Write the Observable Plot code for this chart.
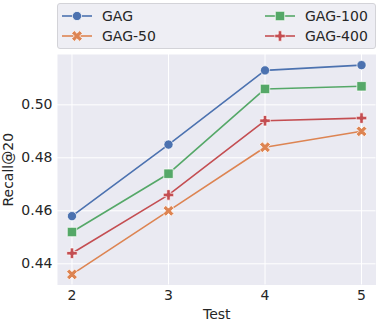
<!DOCTYPE html>
<html>
<head>
<meta charset="utf-8">
<script src="https://cdn.jsdelivr.net/npm/d3@7"></script>
<script src="https://cdn.jsdelivr.net/npm/@observablehq/plot@0.6"></script>
<style>
  body { margin: 0; background: white; font-family: "DejaVu Sans", sans-serif; }
  #wrap { position: relative; width: 382px; height: 325px; }
  #legend { position: absolute; left: 57px; top: 3px; width: 317px; height: 44px;
    background: #EEEEF4; border: 1px solid #D3D3D8; border-radius: 3px; }
  .item { position: absolute; display: flex; align-items: center; font-size: 14px; color: #262626; height: 20px; }
  .item svg { margin-right: 10px; }
  #chart { position: absolute; left: 0; top: 50px; }
</style>
</head>
<body>
<div id="wrap">
  <div id="legend"></div>
  <div id="chart"></div>
</div>
<script>
// Data
const tests = [2, 3, 4, 5];
const yTicks = [0.44, 0.46, 0.48, 0.50];
const seriesNames = ["GAG", "GAG-50", "GAG-100", "GAG-400"];
const gag    = [0.458, 0.485, 0.513, 0.515];
const gag50  = [0.436, 0.460, 0.484, 0.490];
const gag100 = [0.452, 0.474, 0.506, 0.507];
const gag400 = [0.444, 0.466, 0.494, 0.495];

// Styles
const colors = {"GAG": "#4C72B0", "GAG-50": "#DD8452", "GAG-100": "#55A868", "GAG-400": "#C44E52"};
const markers = {
  "GAG":     {symbol: d3.symbolCircle, r: 4.6, rotate: 0},
  "GAG-50":  {symbol: d3.symbolCross,  r: 4.8, rotate: 45},
  "GAG-100": {symbol: d3.symbolSquare, r: 5.3, rotate: 0},
  "GAG-400": {symbol: d3.symbolCross,  r: 4.4, rotate: 0}
};

const valuesBySeries = {"GAG": gag, "GAG-50": gag50, "GAG-100": gag100, "GAG-400": gag400};
const table = seriesNames.flatMap(s => tests.map((t, i) => ({series: s, test: t, value: valuesBySeries[s][i]})));

const marks = [
  Plot.frame({fill: "#EAEAF2", stroke: null}),
  Plot.gridX(tests, {stroke: "white", strokeOpacity: 1, strokeWidth: 1}),
  Plot.gridY(yTicks, {stroke: "white", strokeOpacity: 1, strokeWidth: 1}),
  Plot.axisX(tests, {tickSize: 0, tickPadding: 5, tickFormat: d => String(d), label: "Test",
    labelAnchor: "center", labelArrow: "none", labelOffset: 34}),
  Plot.axisY(yTicks, {tickSize: 0, tickPadding: 5, tickFormat: d3.format(".2f"), label: "Recall@20",
    labelAnchor: "center", labelArrow: "none", labelOffset: 54})
];
for (const s of seriesNames) {
  const data = table.filter(d => d.series === s);
  marks.push(Plot.line(data, {x: "test", y: "value", stroke: colors[s], strokeWidth: 1.6}));
}
for (const s of seriesNames) {
  const data = table.filter(d => d.series === s);
  const m = markers[s];
  marks.push(Plot.dot(data, {x: "test", y: "value", symbol: () => m.symbol, r: m.r, rotate: m.rotate,
    fill: colors[s], stroke: "white", strokeWidth: 0.7}));
}

const chart = Plot.plot({
  width: 382, height: 275,
  marginLeft: 57, marginRight: 6.5, marginTop: 4, marginBottom: 40.5,
  style: {fontFamily: "DejaVu Sans", fontSize: "14px", color: "#262626", background: "transparent", overflow: "visible"},
  x: {domain: [1.85, 5.15]},
  y: {domain: [0.432, 0.519]},
  symbol: {type: "identity"},
  marks
});
document.getElementById("chart").appendChild(chart);

// Legend
const legend = document.getElementById("legend");
const positions = [
  {s: "GAG", left: 4, top: 2}, {s: "GAG-50", left: 4, top: 22},
  {s: "GAG-100", left: 207, top: 2}, {s: "GAG-400", left: 207, top: 22}
];
for (const p of positions) {
  const div = document.createElement("div");
  div.className = "item";
  div.style.left = p.left + "px";
  div.style.top = p.top + "px";
  const m = markers[p.s];
  const path = d3.symbol(m.symbol, Math.PI * m.r * m.r)();
  div.innerHTML = `<svg width="30" height="20"><line x1="0" x2="30" y1="10" y2="10" stroke="${colors[p.s]}" stroke-width="1.6"/>` +
    `<path d="${path}" transform="translate(15,10) rotate(${m.rotate})" fill="${colors[p.s]}" stroke="white" stroke-width="0.7"/></svg>` +
    `<span>${p.s}</span>`;
  legend.appendChild(div);
}
</script>
</body>
</html>
